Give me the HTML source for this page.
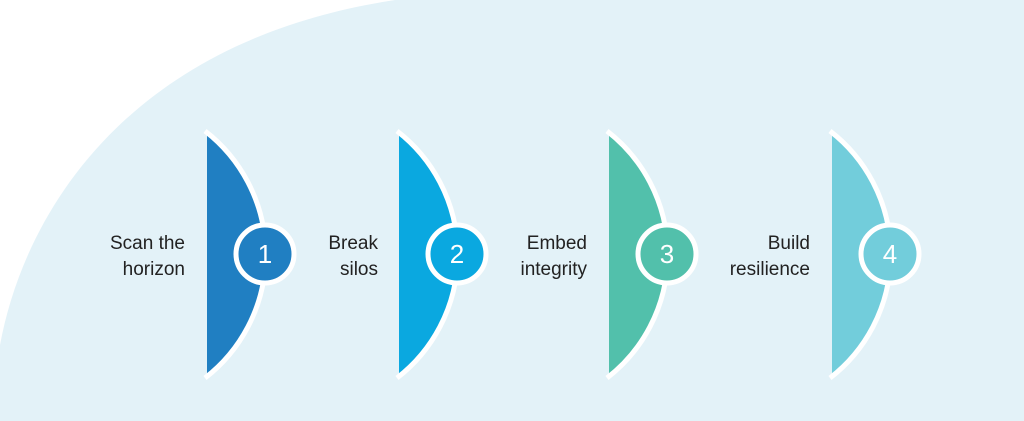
<!DOCTYPE html>
<html><head><meta charset="utf-8"><style>
html,body{margin:0;padding:0;background:#fff;}
svg{display:block}
text{font-family:"Liberation Sans",sans-serif;font-size:19px;fill:#222;}
</style></head><body>
<svg width="1024" height="421" viewBox="0 0 1024 421" xmlns="http://www.w3.org/2000/svg">
<path d="M0,421 L0,345 C25,210 130,40 395,0 L1024,0 L1024,421 Z" fill="#e3f2f8"/>
<path d="M207,133 A156,156 0 0 1 207,376 Z" fill="#207fc2"/>
<path d="M399,133 A156,156 0 0 1 399,376 Z" fill="#0aa8e0"/>
<path d="M609,133 A156,156 0 0 1 609,376 Z" fill="#52c0ab"/>
<path d="M832,133 A156,156 0 0 1 832,376 Z" fill="#72cddb"/>
<g stroke="#fff" stroke-width="5" fill="none">
<path d="M205,131 A156,156 0 0 1 205,378"/>
<path d="M397,131 A156,156 0 0 1 397,378"/>
<path d="M607,131 A156,156 0 0 1 607,378"/>
<path d="M830,131 A156,156 0 0 1 830,378"/>
</g>
<g stroke="#fff" stroke-width="5">
<circle cx="265" cy="254" r="29" fill="#207fc2"/>
<circle cx="457" cy="254" r="29" fill="#0aa8e0"/>
<circle cx="667" cy="254" r="29" fill="#52c0ab"/>
<circle cx="890" cy="254" r="29" fill="#72cddb"/>
</g>
<g text-anchor="middle">
<text x="265" y="263" style="fill:#fff;font-size:26px">1</text>
<text x="457" y="263" style="fill:#fff;font-size:26px">2</text>
<text x="667" y="263" style="fill:#fff;font-size:26px">3</text>
<text x="890" y="263" style="fill:#fff;font-size:26px">4</text>
</g>
<g text-anchor="end">
<text x="185" y="249">Scan the</text><text x="185" y="275">horizon</text>
<text x="378" y="249">Break</text><text x="378" y="275">silos</text>
<text x="587" y="249">Embed</text><text x="587" y="275">integrity</text>
<text x="810" y="249">Build</text><text x="810" y="275">resilience</text>
</g>
</svg>
</body></html>
